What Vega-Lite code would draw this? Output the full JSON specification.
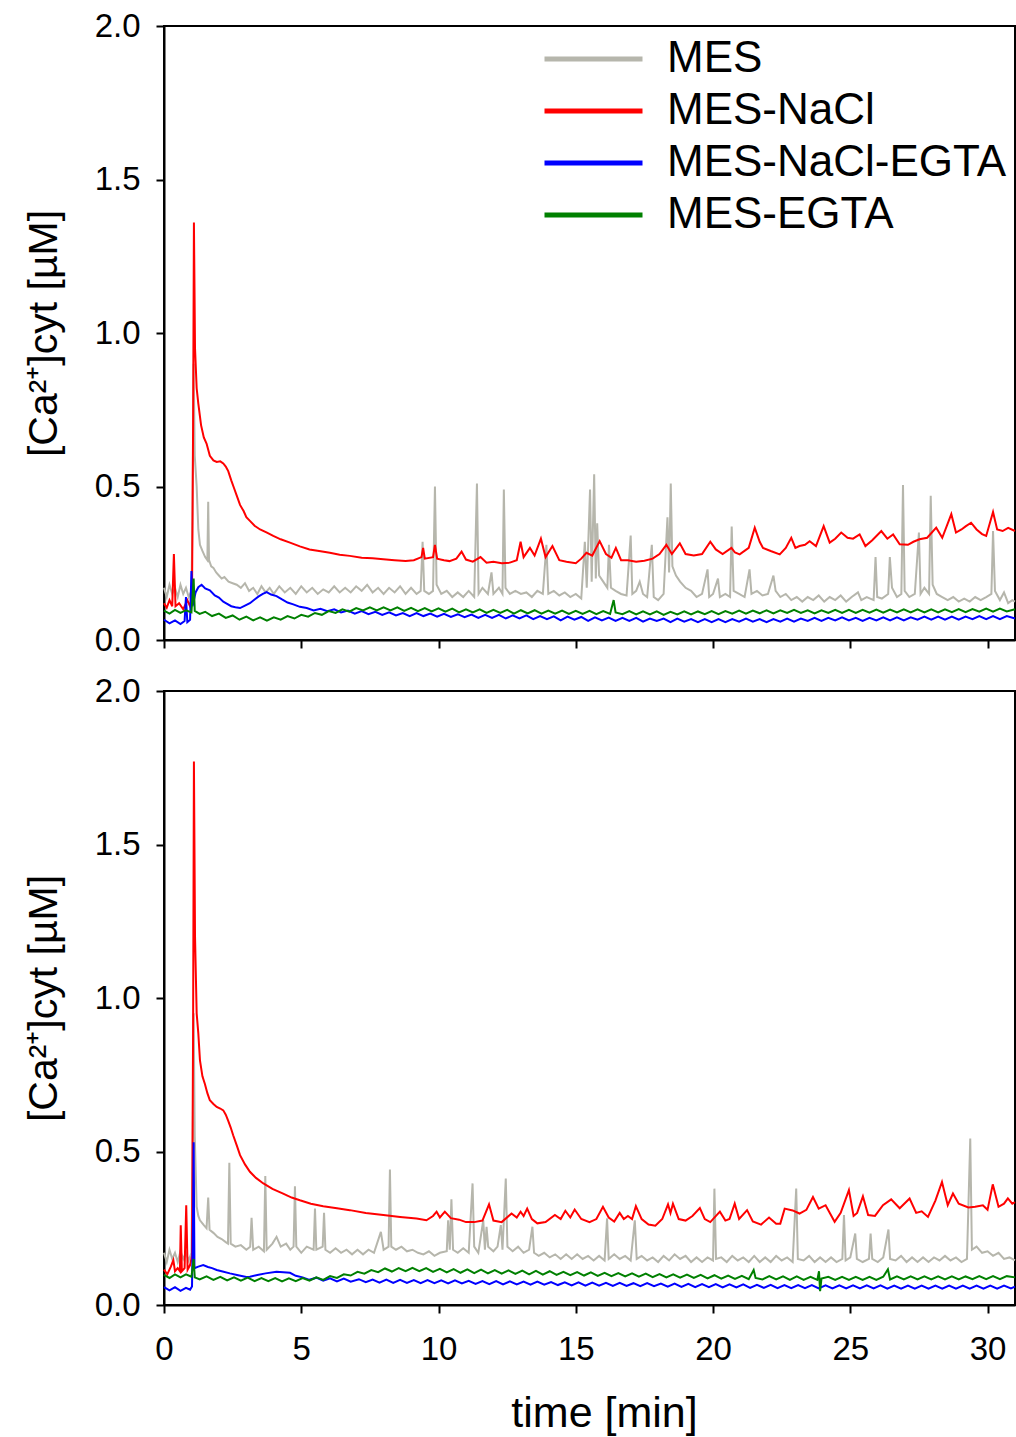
{
"$schema": "https://vega.github.io/schema/vega-lite/v6.json",
"background": "white",
"padding": {"left": 22, "top": 9, "right": 0, "bottom": 0},
"bounds": "flush",
"spacing": 51,
"config": {
  "font": "Liberation Sans",
  "view": {"stroke": "black", "strokeWidth": 2},
  "axis": {"domainColor": "black", "domainWidth": 2, "tickColor": "black", "tickWidth": 2, "tickSize": 8, "labelFont": "Liberation Sans", "labelFontSize": 33, "labelColor": "black", "labelFlush": false, "labelOverlap": false, "titleFont": "Liberation Sans", "titleFontSize": 41, "titleFontWeight": "normal", "titleColor": "black", "grid": false},
  "line": {"clip": true}
},
"datasets": {
"t_mes": [{"t":0,"v":0.17},{"t":0.1,"v":0.14},{"t":0.2,"v":0.18},{"t":0.3,"v":0.15},{"t":0.4,"v":0.17},{"t":0.5,"v":0.14},{"t":0.6,"v":0.18},{"t":0.7,"v":0.15},{"t":0.8,"v":0.17},{"t":0.9,"v":0.14},{"t":1.0,"v":0.16},{"t":1.04,"v":0.4},{"t":1.08,"v":0.9},{"t":1.12,"v":0.6},{"t":1.19,"v":0.5},{"t":1.25,"v":0.36},{"t":1.31,"v":0.31},{"t":1.4,"v":0.29},{"t":1.5,"v":0.27},{"t":1.58,"v":0.26},{"t":1.61,"v":0.45},{"t":1.64,"v":0.26},{"t":1.72,"v":0.24},{"t":1.8,"v":0.235},{"t":1.9,"v":0.22},{"t":2.0,"v":0.21},{"t":2.1,"v":0.2},{"t":2.2,"v":0.205},{"t":2.35,"v":0.19},{"t":2.5,"v":0.185},{"t":2.65,"v":0.18},{"t":2.8,"v":0.17},{"t":2.95,"v":0.185},{"t":3.1,"v":0.16},{"t":3.25,"v":0.17},{"t":3.4,"v":0.15},{"t":3.55,"v":0.175},{"t":3.7,"v":0.155},{"t":3.85,"v":0.17},{"t":4.0,"v":0.15},{"t":4.2,"v":0.175},{"t":4.4,"v":0.155},{"t":4.6,"v":0.17},{"t":4.8,"v":0.15},{"t":5.0,"v":0.175},{"t":5.2,"v":0.155},{"t":5.4,"v":0.17},{"t":5.6,"v":0.15},{"t":5.8,"v":0.165},{"t":6.0,"v":0.155},{"t":6.2,"v":0.175},{"t":6.4,"v":0.155},{"t":6.6,"v":0.17},{"t":6.8,"v":0.155},{"t":7.0,"v":0.175},{"t":7.2,"v":0.16},{"t":7.4,"v":0.18},{"t":7.6,"v":0.155},{"t":7.8,"v":0.17},{"t":8.0,"v":0.15},{"t":8.2,"v":0.17},{"t":8.4,"v":0.155},{"t":8.6,"v":0.175},{"t":8.8,"v":0.15},{"t":9.0,"v":0.17},{"t":9.2,"v":0.15},{"t":9.35,"v":0.16},{"t":9.42,"v":0.32},{"t":9.48,"v":0.16},{"t":9.65,"v":0.15},{"t":9.8,"v":0.16},{"t":9.87,"v":0.5},{"t":9.93,"v":0.18},{"t":10.1,"v":0.15},{"t":10.3,"v":0.16},{"t":10.5,"v":0.14},{"t":10.7,"v":0.155},{"t":10.9,"v":0.14},{"t":11.1,"v":0.16},{"t":11.3,"v":0.14},{"t":11.4,"v":0.51},{"t":11.46,"v":0.15},{"t":11.6,"v":0.17},{"t":11.8,"v":0.15},{"t":11.93,"v":0.22},{"t":12.0,"v":0.15},{"t":12.2,"v":0.17},{"t":12.33,"v":0.15},{"t":12.38,"v":0.49},{"t":12.44,"v":0.17},{"t":12.6,"v":0.15},{"t":12.8,"v":0.16},{"t":13.0,"v":0.15},{"t":13.2,"v":0.155},{"t":13.4,"v":0.14},{"t":13.6,"v":0.16},{"t":13.8,"v":0.15},{"t":13.93,"v":0.31},{"t":14.0,"v":0.15},{"t":14.2,"v":0.16},{"t":14.4,"v":0.145},{"t":14.6,"v":0.155},{"t":14.8,"v":0.14},{"t":15.0,"v":0.15},{"t":15.2,"v":0.135},{"t":15.33,"v":0.32},{"t":15.4,"v":0.17},{"t":15.52,"v":0.49},{"t":15.58,"v":0.19},{"t":15.67,"v":0.54},{"t":15.73,"v":0.2},{"t":15.78,"v":0.38},{"t":15.85,"v":0.21},{"t":16.0,"v":0.19},{"t":16.15,"v":0.17},{"t":16.21,"v":0.31},{"t":16.28,"v":0.17},{"t":16.45,"v":0.16},{"t":16.65,"v":0.15},{"t":16.85,"v":0.145},{"t":17.0,"v":0.34},{"t":17.06,"v":0.15},{"t":17.2,"v":0.16},{"t":17.33,"v":0.19},{"t":17.45,"v":0.15},{"t":17.6,"v":0.14},{"t":17.77,"v":0.31},{"t":17.84,"v":0.14},{"t":18.0,"v":0.13},{"t":18.2,"v":0.15},{"t":18.34,"v":0.4},{"t":18.4,"v":0.22},{"t":18.46,"v":0.51},{"t":18.52,"v":0.24},{"t":18.65,"v":0.21},{"t":18.8,"v":0.19},{"t":19.0,"v":0.17},{"t":19.2,"v":0.16},{"t":19.4,"v":0.14},{"t":19.6,"v":0.15},{"t":19.8,"v":0.23},{"t":19.86,"v":0.14},{"t":20.0,"v":0.15},{"t":20.18,"v":0.2},{"t":20.25,"v":0.14},{"t":20.45,"v":0.15},{"t":20.62,"v":0.14},{"t":20.68,"v":0.37},{"t":20.75,"v":0.16},{"t":20.95,"v":0.15},{"t":21.15,"v":0.14},{"t":21.33,"v":0.23},{"t":21.4,"v":0.15},{"t":21.6,"v":0.16},{"t":21.8,"v":0.145},{"t":22.0,"v":0.15},{"t":22.2,"v":0.21},{"t":22.28,"v":0.16},{"t":22.45,"v":0.14},{"t":22.65,"v":0.15},{"t":22.85,"v":0.13},{"t":23.05,"v":0.14},{"t":23.25,"v":0.125},{"t":23.45,"v":0.14},{"t":23.65,"v":0.13},{"t":23.85,"v":0.145},{"t":24.05,"v":0.125},{"t":24.25,"v":0.14},{"t":24.45,"v":0.13},{"t":24.65,"v":0.145},{"t":24.85,"v":0.125},{"t":25.05,"v":0.14},{"t":25.28,"v":0.155},{"t":25.4,"v":0.13},{"t":25.6,"v":0.14},{"t":25.85,"v":0.13},{"t":25.92,"v":0.27},{"t":25.98,"v":0.14},{"t":26.15,"v":0.135},{"t":26.38,"v":0.15},{"t":26.44,"v":0.27},{"t":26.52,"v":0.17},{"t":26.7,"v":0.14},{"t":26.86,"v":0.15},{"t":26.92,"v":0.505},{"t":26.98,"v":0.16},{"t":27.15,"v":0.14},{"t":27.35,"v":0.15},{"t":27.5,"v":0.35},{"t":27.56,"v":0.15},{"t":27.7,"v":0.17},{"t":27.87,"v":0.15},{"t":27.93,"v":0.47},{"t":28.0,"v":0.18},{"t":28.15,"v":0.15},{"t":28.35,"v":0.14},{"t":28.55,"v":0.13},{"t":28.75,"v":0.14},{"t":28.95,"v":0.125},{"t":29.15,"v":0.135},{"t":29.35,"v":0.125},{"t":29.55,"v":0.14},{"t":29.75,"v":0.13},{"t":29.95,"v":0.14},{"t":30.14,"v":0.15},{"t":30.2,"v":0.355},{"t":30.27,"v":0.16},{"t":30.45,"v":0.13},{"t":30.6,"v":0.155},{"t":30.75,"v":0.12},{"t":30.9,"v":0.13},{"t":31.0,"v":0.125}],
"t_nacl": [{"t":0,"v":0.12},{"t":0.1,"v":0.105},{"t":0.2,"v":0.13},{"t":0.3,"v":0.11},{"t":0.36,"v":0.28},{"t":0.42,"v":0.11},{"t":0.55,"v":0.12},{"t":0.7,"v":0.1},{"t":0.85,"v":0.13},{"t":0.95,"v":0.11},{"t":1.02,"v":0.14},{"t":1.06,"v":0.7},{"t":1.09,"v":1.36},{"t":1.13,"v":0.95},{"t":1.19,"v":0.82},{"t":1.25,"v":0.77},{"t":1.35,"v":0.7},{"t":1.45,"v":0.66},{"t":1.55,"v":0.64},{"t":1.67,"v":0.6},{"t":1.8,"v":0.585},{"t":1.92,"v":0.58},{"t":2.05,"v":0.582},{"t":2.16,"v":0.575},{"t":2.25,"v":0.565},{"t":2.34,"v":0.55},{"t":2.45,"v":0.52},{"t":2.55,"v":0.495},{"t":2.65,"v":0.47},{"t":2.77,"v":0.44},{"t":2.9,"v":0.42},{"t":3.0,"v":0.4},{"t":3.13,"v":0.388},{"t":3.3,"v":0.372},{"t":3.5,"v":0.36},{"t":3.75,"v":0.35},{"t":3.98,"v":0.339},{"t":4.25,"v":0.328},{"t":4.59,"v":0.317},{"t":4.95,"v":0.305},{"t":5.3,"v":0.295},{"t":5.65,"v":0.29},{"t":6.04,"v":0.284},{"t":6.4,"v":0.278},{"t":6.77,"v":0.274},{"t":7.2,"v":0.268},{"t":7.6,"v":0.266},{"t":7.99,"v":0.263},{"t":8.4,"v":0.26},{"t":8.8,"v":0.257},{"t":9.1,"v":0.26},{"t":9.38,"v":0.27},{"t":9.44,"v":0.3},{"t":9.5,"v":0.265},{"t":9.8,"v":0.27},{"t":9.87,"v":0.31},{"t":9.95,"v":0.265},{"t":10.2,"v":0.26},{"t":10.4,"v":0.257},{"t":10.65,"v":0.265},{"t":10.84,"v":0.288},{"t":11.0,"v":0.262},{"t":11.25,"v":0.255},{"t":11.53,"v":0.27},{"t":11.75,"v":0.252},{"t":12.0,"v":0.255},{"t":12.3,"v":0.25},{"t":12.6,"v":0.252},{"t":12.85,"v":0.26},{"t":12.99,"v":0.32},{"t":13.1,"v":0.27},{"t":13.33,"v":0.3},{"t":13.5,"v":0.275},{"t":13.73,"v":0.33},{"t":13.9,"v":0.27},{"t":14.15,"v":0.306},{"t":14.4,"v":0.26},{"t":14.66,"v":0.255},{"t":15.0,"v":0.25},{"t":15.2,"v":0.265},{"t":15.39,"v":0.284},{"t":15.6,"v":0.275},{"t":15.87,"v":0.322},{"t":16.1,"v":0.28},{"t":16.3,"v":0.268},{"t":16.46,"v":0.3},{"t":16.65,"v":0.26},{"t":16.9,"v":0.26},{"t":17.2,"v":0.255},{"t":17.5,"v":0.258},{"t":17.8,"v":0.265},{"t":18.05,"v":0.28},{"t":18.3,"v":0.31},{"t":18.5,"v":0.28},{"t":18.79,"v":0.315},{"t":19.0,"v":0.28},{"t":19.3,"v":0.275},{"t":19.6,"v":0.28},{"t":19.9,"v":0.32},{"t":20.1,"v":0.295},{"t":20.35,"v":0.28},{"t":20.67,"v":0.3},{"t":20.8,"v":0.285},{"t":20.97,"v":0.279},{"t":21.3,"v":0.3},{"t":21.52,"v":0.366},{"t":21.7,"v":0.32},{"t":21.82,"v":0.3},{"t":22.1,"v":0.29},{"t":22.43,"v":0.279},{"t":22.65,"v":0.3},{"t":22.85,"v":0.333},{"t":23.0,"v":0.3},{"t":23.15,"v":0.306},{"t":23.35,"v":0.31},{"t":23.52,"v":0.322},{"t":23.75,"v":0.306},{"t":24.03,"v":0.371},{"t":24.25,"v":0.317},{"t":24.45,"v":0.33},{"t":24.67,"v":0.35},{"t":24.9,"v":0.333},{"t":25.1,"v":0.33},{"t":25.34,"v":0.344},{"t":25.55,"v":0.306},{"t":25.8,"v":0.325},{"t":26.13,"v":0.355},{"t":26.35,"v":0.33},{"t":26.56,"v":0.344},{"t":26.8,"v":0.312},{"t":27.1,"v":0.31},{"t":27.3,"v":0.32},{"t":27.52,"v":0.328},{"t":27.8,"v":0.333},{"t":28.13,"v":0.366},{"t":28.35,"v":0.333},{"t":28.68,"v":0.41},{"t":28.85,"v":0.35},{"t":29.05,"v":0.36},{"t":29.2,"v":0.37},{"t":29.4,"v":0.382},{"t":29.6,"v":0.36},{"t":29.8,"v":0.345},{"t":29.95,"v":0.339},{"t":30.2,"v":0.417},{"t":30.35,"v":0.36},{"t":30.55,"v":0.355},{"t":30.75,"v":0.365},{"t":31.0,"v":0.355}],
"t_nacl_egta": [{"t":0,"v":0.066},{"t":0.2,"v":0.054},{"t":0.4,"v":0.064},{"t":0.6,"v":0.052},{"t":0.75,"v":0.062},{"t":0.8,"v":0.14},{"t":0.85,"v":0.058},{"t":0.95,"v":0.066},{"t":1.0,"v":0.225},{"t":1.04,"v":0.11},{"t":1.15,"v":0.155},{"t":1.25,"v":0.172},{"t":1.37,"v":0.18},{"t":1.5,"v":0.168},{"t":1.67,"v":0.162},{"t":1.85,"v":0.145},{"t":2.0,"v":0.138},{"t":2.16,"v":0.125},{"t":2.3,"v":0.118},{"t":2.45,"v":0.11},{"t":2.6,"v":0.107},{"t":2.77,"v":0.104},{"t":2.95,"v":0.112},{"t":3.13,"v":0.12},{"t":3.3,"v":0.132},{"t":3.45,"v":0.142},{"t":3.6,"v":0.15},{"t":3.74,"v":0.156},{"t":3.9,"v":0.148},{"t":4.1,"v":0.143},{"t":4.3,"v":0.132},{"t":4.5,"v":0.122},{"t":4.71,"v":0.116},{"t":4.95,"v":0.108},{"t":5.2,"v":0.104},{"t":5.45,"v":0.096},{"t":5.7,"v":0.102},{"t":5.95,"v":0.094},{"t":6.2,"v":0.1},{"t":6.45,"v":0.09},{"t":6.7,"v":0.096},{"t":6.95,"v":0.086},{"t":7.2,"v":0.094},{"t":7.45,"v":0.084},{"t":7.7,"v":0.092},{"t":7.95,"v":0.082},{"t":8.2,"v":0.09},{"t":8.45,"v":0.08},{"t":8.7,"v":0.088},{"t":8.95,"v":0.078},{"t":9.2,"v":0.088},{"t":9.45,"v":0.078},{"t":9.7,"v":0.086},{"t":9.95,"v":0.076},{"t":10.2,"v":0.085},{"t":10.45,"v":0.075},{"t":10.7,"v":0.084},{"t":10.95,"v":0.074},{"t":11.2,"v":0.083},{"t":11.45,"v":0.072},{"t":11.7,"v":0.082},{"t":11.95,"v":0.072},{"t":12.2,"v":0.082},{"t":12.45,"v":0.07},{"t":12.7,"v":0.08},{"t":12.95,"v":0.07},{"t":13.2,"v":0.08},{"t":13.45,"v":0.068},{"t":13.7,"v":0.078},{"t":13.95,"v":0.068},{"t":14.2,"v":0.077},{"t":14.45,"v":0.064},{"t":14.7,"v":0.076},{"t":14.95,"v":0.066},{"t":15.2,"v":0.075},{"t":15.45,"v":0.062},{"t":15.7,"v":0.074},{"t":15.95,"v":0.064},{"t":16.2,"v":0.073},{"t":16.45,"v":0.062},{"t":16.7,"v":0.072},{"t":16.95,"v":0.062},{"t":17.2,"v":0.072},{"t":17.45,"v":0.06},{"t":17.7,"v":0.07},{"t":17.95,"v":0.062},{"t":18.2,"v":0.07},{"t":18.45,"v":0.058},{"t":18.7,"v":0.07},{"t":18.95,"v":0.06},{"t":19.2,"v":0.068},{"t":19.45,"v":0.058},{"t":19.7,"v":0.068},{"t":19.95,"v":0.058},{"t":20.2,"v":0.068},{"t":20.45,"v":0.058},{"t":20.7,"v":0.068},{"t":20.95,"v":0.06},{"t":21.2,"v":0.07},{"t":21.45,"v":0.06},{"t":21.7,"v":0.068},{"t":21.95,"v":0.058},{"t":22.2,"v":0.068},{"t":22.45,"v":0.06},{"t":22.7,"v":0.07},{"t":22.95,"v":0.06},{"t":23.2,"v":0.07},{"t":23.45,"v":0.062},{"t":23.7,"v":0.072},{"t":23.95,"v":0.062},{"t":24.2,"v":0.072},{"t":24.45,"v":0.064},{"t":24.7,"v":0.074},{"t":24.95,"v":0.064},{"t":25.2,"v":0.072},{"t":25.45,"v":0.062},{"t":25.7,"v":0.072},{"t":25.95,"v":0.064},{"t":26.2,"v":0.074},{"t":26.45,"v":0.064},{"t":26.7,"v":0.074},{"t":26.95,"v":0.064},{"t":27.2,"v":0.074},{"t":27.45,"v":0.066},{"t":27.7,"v":0.076},{"t":27.95,"v":0.066},{"t":28.2,"v":0.076},{"t":28.45,"v":0.066},{"t":28.7,"v":0.076},{"t":28.95,"v":0.066},{"t":29.2,"v":0.076},{"t":29.45,"v":0.068},{"t":29.7,"v":0.078},{"t":29.95,"v":0.068},{"t":30.2,"v":0.078},{"t":30.45,"v":0.068},{"t":30.7,"v":0.078},{"t":31.0,"v":0.07}],
"t_egta": [{"t":0,"v":0.096},{"t":0.2,"v":0.086},{"t":0.4,"v":0.098},{"t":0.6,"v":0.088},{"t":0.8,"v":0.097},{"t":1.0,"v":0.09},{"t":1.08,"v":0.2},{"t":1.12,"v":0.095},{"t":1.3,"v":0.085},{"t":1.5,"v":0.092},{"t":1.75,"v":0.078},{"t":2.0,"v":0.086},{"t":2.25,"v":0.072},{"t":2.5,"v":0.08},{"t":2.75,"v":0.066},{"t":3.0,"v":0.076},{"t":3.25,"v":0.064},{"t":3.5,"v":0.074},{"t":3.75,"v":0.063},{"t":4.0,"v":0.074},{"t":4.25,"v":0.066},{"t":4.5,"v":0.078},{"t":4.75,"v":0.07},{"t":5.0,"v":0.082},{"t":5.25,"v":0.076},{"t":5.5,"v":0.088},{"t":5.75,"v":0.082},{"t":6.0,"v":0.094},{"t":6.25,"v":0.088},{"t":6.5,"v":0.1},{"t":6.75,"v":0.092},{"t":7.0,"v":0.104},{"t":7.25,"v":0.096},{"t":7.5,"v":0.106},{"t":7.75,"v":0.096},{"t":8.0,"v":0.106},{"t":8.25,"v":0.096},{"t":8.5,"v":0.106},{"t":8.75,"v":0.095},{"t":9.0,"v":0.105},{"t":9.25,"v":0.094},{"t":9.5,"v":0.104},{"t":9.75,"v":0.093},{"t":10.0,"v":0.103},{"t":10.25,"v":0.092},{"t":10.5,"v":0.102},{"t":10.75,"v":0.09},{"t":11.0,"v":0.1},{"t":11.25,"v":0.09},{"t":11.5,"v":0.1},{"t":11.75,"v":0.088},{"t":12.0,"v":0.098},{"t":12.25,"v":0.088},{"t":12.5,"v":0.098},{"t":12.75,"v":0.086},{"t":13.0,"v":0.097},{"t":13.25,"v":0.087},{"t":13.5,"v":0.097},{"t":13.75,"v":0.086},{"t":14.0,"v":0.096},{"t":14.25,"v":0.086},{"t":14.5,"v":0.096},{"t":14.75,"v":0.085},{"t":15.0,"v":0.095},{"t":15.25,"v":0.085},{"t":15.5,"v":0.095},{"t":15.75,"v":0.084},{"t":16.0,"v":0.094},{"t":16.25,"v":0.085},{"t":16.38,"v":0.13},{"t":16.45,"v":0.09},{"t":16.7,"v":0.084},{"t":16.95,"v":0.094},{"t":17.2,"v":0.083},{"t":17.45,"v":0.093},{"t":17.7,"v":0.083},{"t":17.95,"v":0.093},{"t":18.2,"v":0.082},{"t":18.45,"v":0.092},{"t":18.7,"v":0.083},{"t":18.95,"v":0.093},{"t":19.2,"v":0.083},{"t":19.45,"v":0.093},{"t":19.7,"v":0.084},{"t":19.95,"v":0.094},{"t":20.2,"v":0.084},{"t":20.45,"v":0.094},{"t":20.7,"v":0.086},{"t":20.95,"v":0.096},{"t":21.2,"v":0.086},{"t":21.45,"v":0.096},{"t":21.7,"v":0.087},{"t":21.95,"v":0.097},{"t":22.2,"v":0.087},{"t":22.45,"v":0.097},{"t":22.7,"v":0.088},{"t":22.95,"v":0.098},{"t":23.2,"v":0.088},{"t":23.45,"v":0.097},{"t":23.7,"v":0.087},{"t":23.95,"v":0.097},{"t":24.2,"v":0.088},{"t":24.45,"v":0.098},{"t":24.7,"v":0.088},{"t":24.95,"v":0.098},{"t":25.2,"v":0.088},{"t":25.45,"v":0.098},{"t":25.7,"v":0.089},{"t":25.95,"v":0.099},{"t":26.2,"v":0.089},{"t":26.45,"v":0.099},{"t":26.7,"v":0.09},{"t":26.95,"v":0.1},{"t":27.2,"v":0.09},{"t":27.45,"v":0.1},{"t":27.7,"v":0.09},{"t":27.95,"v":0.1},{"t":28.2,"v":0.09},{"t":28.45,"v":0.1},{"t":28.7,"v":0.091},{"t":28.95,"v":0.101},{"t":29.2,"v":0.091},{"t":29.45,"v":0.101},{"t":29.7,"v":0.092},{"t":29.95,"v":0.102},{"t":30.2,"v":0.092},{"t":30.45,"v":0.102},{"t":30.7,"v":0.093},{"t":31.0,"v":0.1}],
"b_mes": [{"t":0,"v":0.17},{"t":0.1,"v":0.14},{"t":0.2,"v":0.18},{"t":0.3,"v":0.15},{"t":0.4,"v":0.17},{"t":0.5,"v":0.14},{"t":0.6,"v":0.175},{"t":0.7,"v":0.15},{"t":0.8,"v":0.17},{"t":0.9,"v":0.145},{"t":1.0,"v":0.17},{"t":1.04,"v":0.45},{"t":1.08,"v":0.95},{"t":1.12,"v":0.55},{"t":1.19,"v":0.32},{"t":1.25,"v":0.29},{"t":1.31,"v":0.276},{"t":1.45,"v":0.26},{"t":1.55,"v":0.25},{"t":1.61,"v":0.35},{"t":1.66,"v":0.245},{"t":1.8,"v":0.235},{"t":1.95,"v":0.222},{"t":2.1,"v":0.215},{"t":2.25,"v":0.205},{"t":2.33,"v":0.2},{"t":2.38,"v":0.463},{"t":2.43,"v":0.2},{"t":2.6,"v":0.19},{"t":2.8,"v":0.195},{"t":3.0,"v":0.18},{"t":3.14,"v":0.19},{"t":3.19,"v":0.284},{"t":3.25,"v":0.18},{"t":3.45,"v":0.19},{"t":3.64,"v":0.175},{"t":3.69,"v":0.42},{"t":3.74,"v":0.18},{"t":3.95,"v":0.2},{"t":4.1,"v":0.222},{"t":4.25,"v":0.19},{"t":4.45,"v":0.2},{"t":4.6,"v":0.18},{"t":4.72,"v":0.19},{"t":4.77,"v":0.387},{"t":4.82,"v":0.19},{"t":5.0,"v":0.17},{"t":5.2,"v":0.19},{"t":5.45,"v":0.18},{"t":5.5,"v":0.314},{"t":5.55,"v":0.18},{"t":5.78,"v":0.19},{"t":5.83,"v":0.3},{"t":5.88,"v":0.18},{"t":6.05,"v":0.17},{"t":6.25,"v":0.185},{"t":6.45,"v":0.17},{"t":6.65,"v":0.18},{"t":6.85,"v":0.165},{"t":7.05,"v":0.18},{"t":7.25,"v":0.165},{"t":7.45,"v":0.18},{"t":7.65,"v":0.17},{"t":7.9,"v":0.238},{"t":8.0,"v":0.18},{"t":8.18,"v":0.19},{"t":8.23,"v":0.441},{"t":8.28,"v":0.19},{"t":8.45,"v":0.18},{"t":8.65,"v":0.19},{"t":8.85,"v":0.175},{"t":9.05,"v":0.18},{"t":9.25,"v":0.17},{"t":9.45,"v":0.165},{"t":9.65,"v":0.175},{"t":9.85,"v":0.16},{"t":10.05,"v":0.17},{"t":10.3,"v":0.175},{"t":10.35,"v":0.276},{"t":10.41,"v":0.18},{"t":10.47,"v":0.344},{"t":10.53,"v":0.18},{"t":10.7,"v":0.17},{"t":10.9,"v":0.185},{"t":11.1,"v":0.17},{"t":11.24,"v":0.396},{"t":11.3,"v":0.19},{"t":11.45,"v":0.17},{"t":11.63,"v":0.276},{"t":11.69,"v":0.18},{"t":11.75,"v":0.255},{"t":11.81,"v":0.19},{"t":12.0,"v":0.175},{"t":12.15,"v":0.19},{"t":12.27,"v":0.26},{"t":12.33,"v":0.18},{"t":12.45,"v":0.412},{"t":12.51,"v":0.19},{"t":12.7,"v":0.175},{"t":12.9,"v":0.19},{"t":13.1,"v":0.17},{"t":13.3,"v":0.18},{"t":13.42,"v":0.255},{"t":13.48,"v":0.17},{"t":13.65,"v":0.16},{"t":13.85,"v":0.17},{"t":14.05,"v":0.155},{"t":14.25,"v":0.165},{"t":14.45,"v":0.15},{"t":14.65,"v":0.165},{"t":14.85,"v":0.15},{"t":15.05,"v":0.165},{"t":15.25,"v":0.15},{"t":15.45,"v":0.16},{"t":15.65,"v":0.145},{"t":15.85,"v":0.16},{"t":16.05,"v":0.145},{"t":16.14,"v":0.282},{"t":16.2,"v":0.15},{"t":16.4,"v":0.165},{"t":16.6,"v":0.15},{"t":16.8,"v":0.16},{"t":17.0,"v":0.145},{"t":17.15,"v":0.276},{"t":17.22,"v":0.15},{"t":17.4,"v":0.16},{"t":17.6,"v":0.145},{"t":17.8,"v":0.155},{"t":18.0,"v":0.14},{"t":18.2,"v":0.16},{"t":18.4,"v":0.145},{"t":18.6,"v":0.165},{"t":18.8,"v":0.15},{"t":19.0,"v":0.16},{"t":19.2,"v":0.14},{"t":19.4,"v":0.155},{"t":19.6,"v":0.14},{"t":19.8,"v":0.155},{"t":20.0,"v":0.145},{"t":20.05,"v":0.379},{"t":20.11,"v":0.15},{"t":20.3,"v":0.155},{"t":20.5,"v":0.14},{"t":20.7,"v":0.16},{"t":20.9,"v":0.145},{"t":21.1,"v":0.155},{"t":21.3,"v":0.14},{"t":21.5,"v":0.16},{"t":21.7,"v":0.14},{"t":21.9,"v":0.155},{"t":22.1,"v":0.14},{"t":22.3,"v":0.16},{"t":22.5,"v":0.145},{"t":22.7,"v":0.155},{"t":22.9,"v":0.14},{"t":23.03,"v":0.379},{"t":23.09,"v":0.15},{"t":23.3,"v":0.145},{"t":23.5,"v":0.16},{"t":23.7,"v":0.14},{"t":23.9,"v":0.155},{"t":24.1,"v":0.14},{"t":24.3,"v":0.155},{"t":24.5,"v":0.14},{"t":24.71,"v":0.15},{"t":24.77,"v":0.293},{"t":24.83,"v":0.145},{"t":25.0,"v":0.155},{"t":25.18,"v":0.233},{"t":25.24,"v":0.15},{"t":25.45,"v":0.14},{"t":25.68,"v":0.15},{"t":25.74,"v":0.233},{"t":25.8,"v":0.15},{"t":26.0,"v":0.14},{"t":26.2,"v":0.155},{"t":26.39,"v":0.246},{"t":26.45,"v":0.15},{"t":26.65,"v":0.145},{"t":26.85,"v":0.16},{"t":27.05,"v":0.14},{"t":27.25,"v":0.155},{"t":27.45,"v":0.14},{"t":27.65,"v":0.155},{"t":27.85,"v":0.14},{"t":28.05,"v":0.155},{"t":28.25,"v":0.145},{"t":28.45,"v":0.16},{"t":28.65,"v":0.145},{"t":28.85,"v":0.155},{"t":29.05,"v":0.14},{"t":29.25,"v":0.15},{"t":29.37,"v":0.542},{"t":29.43,"v":0.18},{"t":29.6,"v":0.19},{"t":29.8,"v":0.17},{"t":30.0,"v":0.175},{"t":30.2,"v":0.16},{"t":30.4,"v":0.17},{"t":30.6,"v":0.15},{"t":30.8,"v":0.155},{"t":31.0,"v":0.145}],
"b_nacl": [{"t":0,"v":0.115},{"t":0.12,"v":0.1},{"t":0.25,"v":0.125},{"t":0.34,"v":0.146},{"t":0.4,"v":0.11},{"t":0.5,"v":0.12},{"t":0.58,"v":0.11},{"t":0.61,"v":0.26},{"t":0.65,"v":0.11},{"t":0.75,"v":0.12},{"t":0.81,"v":0.325},{"t":0.86,"v":0.115},{"t":0.95,"v":0.13},{"t":1.02,"v":0.16},{"t":1.06,"v":0.9},{"t":1.09,"v":1.77},{"t":1.13,"v":1.2},{"t":1.19,"v":0.95},{"t":1.25,"v":0.885},{"t":1.31,"v":0.797},{"t":1.4,"v":0.745},{"t":1.49,"v":0.72},{"t":1.58,"v":0.69},{"t":1.67,"v":0.667},{"t":1.8,"v":0.655},{"t":1.92,"v":0.645},{"t":2.05,"v":0.64},{"t":2.16,"v":0.634},{"t":2.25,"v":0.62},{"t":2.34,"v":0.6},{"t":2.43,"v":0.578},{"t":2.52,"v":0.553},{"t":2.65,"v":0.52},{"t":2.77,"v":0.488},{"t":2.95,"v":0.458},{"t":3.13,"v":0.434},{"t":3.35,"v":0.414},{"t":3.62,"v":0.396},{"t":3.95,"v":0.378},{"t":4.34,"v":0.363},{"t":4.65,"v":0.35},{"t":4.95,"v":0.341},{"t":5.35,"v":0.33},{"t":5.8,"v":0.322},{"t":6.3,"v":0.315},{"t":6.77,"v":0.309},{"t":7.35,"v":0.3},{"t":7.99,"v":0.293},{"t":8.6,"v":0.287},{"t":9.2,"v":0.282},{"t":9.56,"v":0.276},{"t":9.8,"v":0.29},{"t":9.93,"v":0.304},{"t":10.05,"v":0.285},{"t":10.23,"v":0.304},{"t":10.45,"v":0.283},{"t":10.75,"v":0.278},{"t":11.0,"v":0.27},{"t":11.3,"v":0.27},{"t":11.6,"v":0.275},{"t":11.84,"v":0.328},{"t":12.0,"v":0.275},{"t":12.3,"v":0.27},{"t":12.66,"v":0.298},{"t":12.85,"v":0.285},{"t":12.99,"v":0.304},{"t":13.1,"v":0.29},{"t":13.23,"v":0.314},{"t":13.4,"v":0.28},{"t":13.6,"v":0.266},{"t":13.9,"v":0.27},{"t":14.24,"v":0.293},{"t":14.45,"v":0.28},{"t":14.62,"v":0.307},{"t":14.8,"v":0.285},{"t":14.96,"v":0.311},{"t":15.2,"v":0.28},{"t":15.5,"v":0.27},{"t":15.75,"v":0.28},{"t":15.99,"v":0.32},{"t":16.2,"v":0.285},{"t":16.4,"v":0.272},{"t":16.6,"v":0.3},{"t":16.75,"v":0.28},{"t":16.9,"v":0.29},{"t":17.05,"v":0.28},{"t":17.19,"v":0.322},{"t":17.4,"v":0.28},{"t":17.65,"v":0.262},{"t":17.9,"v":0.258},{"t":18.15,"v":0.28},{"t":18.36,"v":0.328},{"t":18.45,"v":0.3},{"t":18.54,"v":0.33},{"t":18.75,"v":0.28},{"t":19.0,"v":0.275},{"t":19.25,"v":0.29},{"t":19.52,"v":0.316},{"t":19.7,"v":0.28},{"t":19.9,"v":0.27},{"t":20.25,"v":0.304},{"t":20.45,"v":0.275},{"t":20.6,"v":0.28},{"t":20.79,"v":0.33},{"t":20.95,"v":0.28},{"t":21.24,"v":0.309},{"t":21.45,"v":0.272},{"t":21.75,"v":0.262},{"t":22.04,"v":0.285},{"t":22.3,"v":0.265},{"t":22.45,"v":0.265},{"t":22.61,"v":0.314},{"t":22.9,"v":0.308},{"t":23.15,"v":0.298},{"t":23.4,"v":0.31},{"t":23.64,"v":0.352},{"t":23.85,"v":0.314},{"t":24.1,"v":0.325},{"t":24.43,"v":0.271},{"t":24.65,"v":0.3},{"t":24.95,"v":0.374},{"t":25.12,"v":0.29},{"t":25.25,"v":0.3},{"t":25.46,"v":0.354},{"t":25.65,"v":0.293},{"t":25.9,"v":0.29},{"t":26.19,"v":0.325},{"t":26.49,"v":0.344},{"t":26.8,"v":0.315},{"t":27.16,"v":0.347},{"t":27.4,"v":0.3},{"t":27.6,"v":0.305},{"t":27.83,"v":0.287},{"t":28.1,"v":0.34},{"t":28.34,"v":0.401},{"t":28.55,"v":0.325},{"t":28.74,"v":0.363},{"t":28.95,"v":0.33},{"t":29.3,"v":0.318},{"t":29.55,"v":0.32},{"t":29.83,"v":0.325},{"t":30.0,"v":0.31},{"t":30.19,"v":0.393},{"t":30.4,"v":0.32},{"t":30.6,"v":0.33},{"t":30.74,"v":0.347},{"t":30.9,"v":0.33},{"t":31.0,"v":0.335}],
"b_nacl_egta": [{"t":0,"v":0.058},{"t":0.2,"v":0.048},{"t":0.4,"v":0.058},{"t":0.6,"v":0.046},{"t":0.8,"v":0.056},{"t":0.95,"v":0.05},{"t":1.02,"v":0.06},{"t":1.06,"v":0.3},{"t":1.08,"v":0.53},{"t":1.11,"v":0.12},{"t":1.25,"v":0.125},{"t":1.43,"v":0.13},{"t":1.6,"v":0.124},{"t":1.75,"v":0.12},{"t":1.92,"v":0.114},{"t":2.1,"v":0.11},{"t":2.4,"v":0.103},{"t":2.7,"v":0.097},{"t":3.0,"v":0.091},{"t":3.13,"v":0.092},{"t":3.4,"v":0.098},{"t":3.7,"v":0.103},{"t":4.1,"v":0.108},{"t":4.35,"v":0.107},{"t":4.59,"v":0.105},{"t":4.8,"v":0.095},{"t":5.05,"v":0.09},{"t":5.3,"v":0.082},{"t":5.55,"v":0.089},{"t":5.8,"v":0.079},{"t":6.05,"v":0.087},{"t":6.3,"v":0.077},{"t":6.55,"v":0.086},{"t":6.8,"v":0.076},{"t":7.1,"v":0.084},{"t":7.35,"v":0.074},{"t":7.6,"v":0.083},{"t":7.85,"v":0.073},{"t":8.1,"v":0.083},{"t":8.35,"v":0.072},{"t":8.6,"v":0.082},{"t":8.85,"v":0.072},{"t":9.1,"v":0.081},{"t":9.35,"v":0.071},{"t":9.6,"v":0.081},{"t":9.85,"v":0.071},{"t":10.1,"v":0.08},{"t":10.35,"v":0.07},{"t":10.6,"v":0.08},{"t":10.85,"v":0.07},{"t":11.1,"v":0.079},{"t":11.35,"v":0.069},{"t":11.6,"v":0.078},{"t":11.85,"v":0.068},{"t":12.1,"v":0.078},{"t":12.35,"v":0.067},{"t":12.6,"v":0.077},{"t":12.85,"v":0.067},{"t":13.1,"v":0.076},{"t":13.35,"v":0.066},{"t":13.6,"v":0.076},{"t":13.85,"v":0.066},{"t":14.1,"v":0.075},{"t":14.35,"v":0.065},{"t":14.6,"v":0.074},{"t":14.85,"v":0.064},{"t":15.1,"v":0.074},{"t":15.35,"v":0.063},{"t":15.6,"v":0.073},{"t":15.85,"v":0.063},{"t":16.1,"v":0.072},{"t":16.35,"v":0.062},{"t":16.6,"v":0.072},{"t":16.85,"v":0.062},{"t":17.1,"v":0.071},{"t":17.35,"v":0.061},{"t":17.6,"v":0.071},{"t":17.85,"v":0.061},{"t":18.1,"v":0.07},{"t":18.35,"v":0.06},{"t":18.6,"v":0.07},{"t":18.85,"v":0.059},{"t":19.1,"v":0.069},{"t":19.35,"v":0.058},{"t":19.6,"v":0.068},{"t":19.85,"v":0.058},{"t":20.1,"v":0.068},{"t":20.35,"v":0.057},{"t":20.6,"v":0.067},{"t":20.85,"v":0.057},{"t":21.1,"v":0.067},{"t":21.35,"v":0.056},{"t":21.6,"v":0.066},{"t":21.85,"v":0.056},{"t":22.1,"v":0.066},{"t":22.35,"v":0.055},{"t":22.6,"v":0.065},{"t":22.85,"v":0.055},{"t":23.1,"v":0.065},{"t":23.35,"v":0.055},{"t":23.6,"v":0.065},{"t":23.85,"v":0.054},{"t":24.1,"v":0.064},{"t":24.35,"v":0.054},{"t":24.6,"v":0.064},{"t":24.85,"v":0.054},{"t":25.1,"v":0.064},{"t":25.35,"v":0.054},{"t":25.6,"v":0.064},{"t":25.85,"v":0.054},{"t":26.1,"v":0.064},{"t":26.35,"v":0.053},{"t":26.6,"v":0.063},{"t":26.85,"v":0.053},{"t":27.1,"v":0.063},{"t":27.35,"v":0.053},{"t":27.6,"v":0.063},{"t":27.85,"v":0.053},{"t":28.1,"v":0.063},{"t":28.35,"v":0.053},{"t":28.6,"v":0.063},{"t":28.85,"v":0.053},{"t":29.1,"v":0.063},{"t":29.35,"v":0.053},{"t":29.6,"v":0.063},{"t":29.85,"v":0.053},{"t":30.1,"v":0.063},{"t":30.35,"v":0.053},{"t":30.6,"v":0.063},{"t":30.85,"v":0.054},{"t":31.0,"v":0.06}],
"b_egta": [{"t":0,"v":0.098},{"t":0.2,"v":0.088},{"t":0.4,"v":0.1},{"t":0.6,"v":0.09},{"t":0.8,"v":0.1},{"t":1.0,"v":0.092},{"t":1.08,"v":0.15},{"t":1.12,"v":0.09},{"t":1.3,"v":0.083},{"t":1.55,"v":0.093},{"t":1.8,"v":0.082},{"t":2.05,"v":0.092},{"t":2.3,"v":0.08},{"t":2.55,"v":0.09},{"t":2.8,"v":0.079},{"t":3.05,"v":0.089},{"t":3.3,"v":0.078},{"t":3.55,"v":0.088},{"t":3.8,"v":0.078},{"t":4.05,"v":0.088},{"t":4.3,"v":0.077},{"t":4.55,"v":0.087},{"t":4.8,"v":0.078},{"t":5.05,"v":0.088},{"t":5.3,"v":0.079},{"t":5.55,"v":0.09},{"t":5.8,"v":0.082},{"t":6.05,"v":0.094},{"t":6.3,"v":0.088},{"t":6.55,"v":0.1},{"t":6.8,"v":0.096},{"t":7.05,"v":0.108},{"t":7.3,"v":0.102},{"t":7.55,"v":0.114},{"t":7.8,"v":0.107},{"t":8.05,"v":0.119},{"t":8.3,"v":0.109},{"t":8.55,"v":0.12},{"t":8.8,"v":0.11},{"t":9.05,"v":0.121},{"t":9.3,"v":0.11},{"t":9.55,"v":0.12},{"t":9.8,"v":0.108},{"t":10.05,"v":0.118},{"t":10.3,"v":0.106},{"t":10.55,"v":0.117},{"t":10.8,"v":0.105},{"t":11.05,"v":0.116},{"t":11.3,"v":0.104},{"t":11.55,"v":0.115},{"t":11.8,"v":0.103},{"t":12.05,"v":0.114},{"t":12.3,"v":0.102},{"t":12.55,"v":0.113},{"t":12.8,"v":0.101},{"t":13.05,"v":0.112},{"t":13.3,"v":0.1},{"t":13.55,"v":0.111},{"t":13.8,"v":0.099},{"t":14.05,"v":0.11},{"t":14.3,"v":0.098},{"t":14.55,"v":0.108},{"t":14.8,"v":0.097},{"t":15.05,"v":0.107},{"t":15.3,"v":0.096},{"t":15.55,"v":0.106},{"t":15.8,"v":0.095},{"t":16.05,"v":0.105},{"t":16.3,"v":0.094},{"t":16.55,"v":0.104},{"t":16.8,"v":0.093},{"t":17.05,"v":0.103},{"t":17.3,"v":0.092},{"t":17.55,"v":0.102},{"t":17.8,"v":0.091},{"t":18.05,"v":0.101},{"t":18.3,"v":0.09},{"t":18.55,"v":0.1},{"t":18.8,"v":0.089},{"t":19.05,"v":0.099},{"t":19.3,"v":0.088},{"t":19.55,"v":0.098},{"t":19.8,"v":0.087},{"t":20.05,"v":0.097},{"t":20.3,"v":0.086},{"t":20.55,"v":0.096},{"t":20.8,"v":0.085},{"t":21.05,"v":0.095},{"t":21.3,"v":0.084},{"t":21.48,"v":0.114},{"t":21.55,"v":0.088},{"t":21.8,"v":0.083},{"t":22.05,"v":0.094},{"t":22.3,"v":0.083},{"t":22.55,"v":0.093},{"t":22.8,"v":0.082},{"t":23.05,"v":0.093},{"t":23.3,"v":0.082},{"t":23.55,"v":0.092},{"t":23.8,"v":0.082},{"t":23.86,"v":0.11},{"t":23.9,"v":0.045},{"t":23.95,"v":0.086},{"t":24.2,"v":0.092},{"t":24.45,"v":0.082},{"t":24.7,"v":0.092},{"t":24.95,"v":0.082},{"t":25.2,"v":0.092},{"t":25.45,"v":0.082},{"t":25.7,"v":0.092},{"t":25.95,"v":0.082},{"t":26.2,"v":0.092},{"t":26.37,"v":0.116},{"t":26.45,"v":0.083},{"t":26.7,"v":0.093},{"t":26.95,"v":0.083},{"t":27.2,"v":0.093},{"t":27.45,"v":0.083},{"t":27.7,"v":0.093},{"t":27.95,"v":0.083},{"t":28.2,"v":0.093},{"t":28.45,"v":0.083},{"t":28.7,"v":0.093},{"t":28.95,"v":0.083},{"t":29.2,"v":0.093},{"t":29.45,"v":0.084},{"t":29.7,"v":0.094},{"t":29.95,"v":0.084},{"t":30.2,"v":0.094},{"t":30.45,"v":0.084},{"t":30.7,"v":0.094},{"t":31.0,"v":0.09}]
},
"vconcat": [
{
  "width": 851, "height": 614,
  "encoding": {
    "x": {"field": "t", "type": "quantitative", "scale": {"domain": [0, 31], "nice": false, "zero": false}, "axis": {"values": [0,5,10,15,20,25,30], "labels": false, "title": null}},
    "y": {"field": "v", "type": "quantitative", "scale": {"domain": [0, 2], "nice": false}, "axis": {"values": [0,0.5,1,1.5,2], "format": ".1f", "labelPadding": 16, "titlePadding": 29, "title": "[Ca²⁺]cyt [µM]"}}
  },
  "layer": [
    {"data": {"name": "t_mes"}, "mark": {"type": "line"}, "encoding": {"color": {"datum": "MES", "type": "nominal", "scale": {"domain": ["MES", "MES-NaCl", "MES-NaCl-EGTA", "MES-EGTA"], "range": ["#b6b6ac", "#ff0000", "#0000ff", "#008000"]}, "legend": {"orient": "none", "legendX": 378, "legendY": 7, "title": null, "padding": 0, "symbolType": "stroke", "symbolSize": 9604, "symbolStrokeWidth": 5, "clipHeight": 52, "rowPadding": 0, "labelFontSize": 44, "labelFont": "Liberation Sans", "labelColor": "black", "labelOffset": 22, "labelLimit": 0}}}},
    {"data": {"name": "t_nacl"}, "mark": {"type": "line"}, "encoding": {"color": {"datum": "MES-NaCl", "type": "nominal"}}},
    {"data": {"name": "t_nacl_egta"}, "mark": {"type": "line"}, "encoding": {"color": {"datum": "MES-NaCl-EGTA", "type": "nominal"}}},
    {"data": {"name": "t_egta"}, "mark": {"type": "line"}, "encoding": {"color": {"datum": "MES-EGTA", "type": "nominal"}}}
  ]
},
{
  "width": 851, "height": 614,
  "encoding": {
    "x": {"field": "t", "type": "quantitative", "scale": {"domain": [0, 31], "nice": false, "zero": false}, "axis": {"values": [0,5,10,15,20,25,30], "labelPadding": 20, "titlePadding": 26, "titleFontSize": 43, "titleX": 440, "title": "time [min]"}},
    "y": {"field": "v", "type": "quantitative", "scale": {"domain": [0, 2], "nice": false}, "axis": {"values": [0,0.5,1,1.5,2], "format": ".1f", "labelPadding": 16, "titlePadding": 29, "title": "[Ca²⁺]cyt [µM]"}}
  },
  "layer": [
    {"data": {"name": "b_mes"}, "mark": {"type": "line"}, "encoding": {"color": {"datum": "MES", "type": "nominal", "scale": {"domain": ["MES", "MES-NaCl", "MES-NaCl-EGTA", "MES-EGTA"], "range": ["#b6b6ac", "#ff0000", "#0000ff", "#008000"]}, "legend": null}}},
    {"data": {"name": "b_nacl"}, "mark": {"type": "line"}, "encoding": {"color": {"datum": "MES-NaCl", "type": "nominal", "legend": null}}},
    {"data": {"name": "b_nacl_egta"}, "mark": {"type": "line"}, "encoding": {"color": {"datum": "MES-NaCl-EGTA", "type": "nominal", "legend": null}}},
    {"data": {"name": "b_egta"}, "mark": {"type": "line"}, "encoding": {"color": {"datum": "MES-EGTA", "type": "nominal", "legend": null}}}
  ]
}
],
"resolve": {"scale": {"color": "independent"}, "legend": {"color": "independent"}}
}
